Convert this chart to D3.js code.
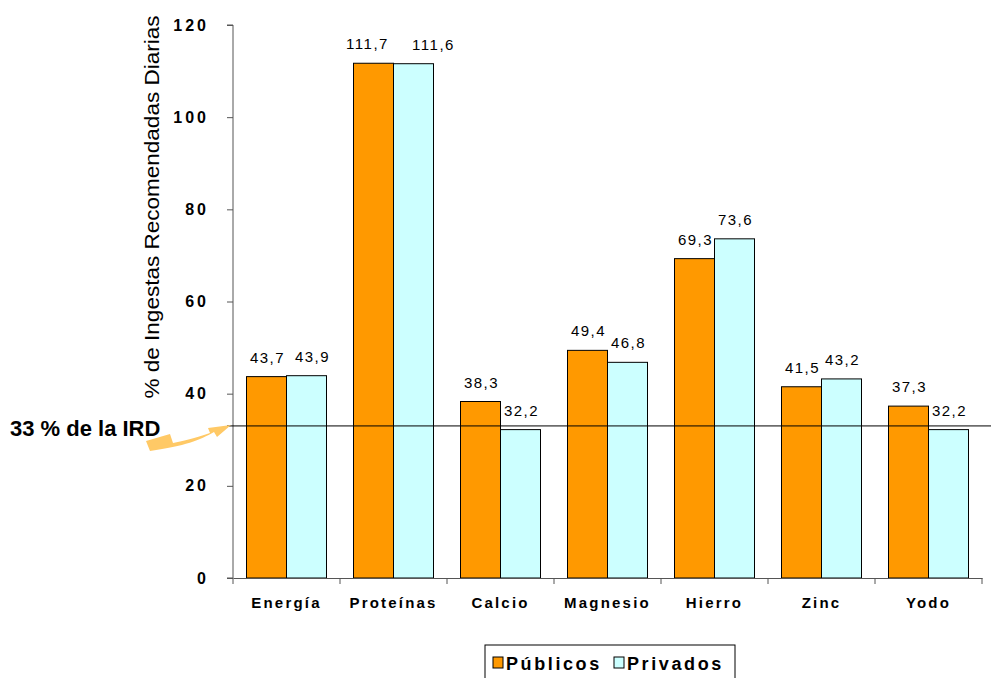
<!DOCTYPE html>
<html>
<head>
<meta charset="utf-8">
<script src="https://cdn.jsdelivr.net/npm/d3@7"></script>
<style>
  html, body { margin: 0; padding: 0; background: #fff; }
  svg { display: block; font-family: "Liberation Sans", Arial, sans-serif; }
</style>
</head>
<body>
<svg id="chart" width="991" height="678"></svg>
<script>
// Nutrient categories and % of recommended daily intake, per school type
const categories = ["Energía", "Proteínas", "Calcio", "Magnesio", "Hierro", "Zinc", "Yodo"];
const publicos = [43.7, 111.7, 38.3, 49.4, 69.3, 41.5, 37.3];
const privados = [43.9, 111.6, 32.2, 46.8, 73.6, 43.2, 32.2];
const seriesNames = ["Públicos", "Privados"];
const seriesColors = ["#FF9900", "#CCFFFF"];
const yTicks = [0, 20, 40, 60, 80, 100, 120];
const referenceLevel = 33;

// Hand-placed label nudges where neighbouring value labels would touch
const labelNudge = { "Energía": [0, 5], "Proteínas": [-7, 19] };

const svg = d3.select("#chart");
const W = 991;
const left = 233, plotW = 749;

const x = d3.scaleBand().domain(categories).range([left, left + plotW]).paddingInner(0).paddingOuter(0);
const xs = d3.scaleBand().domain(seriesNames).range([0, x.bandwidth()]).paddingInner(0).paddingOuter(0.3375);
const y = d3.scaleLinear().domain([0, 120]).range([578, 25]);

const rows = categories.map((c, i) => ({ cat: c, vals: [publicos[i], privados[i]] }));
const fmt = v => d3.format(".1f")(v).replace(".", ",");

// Bars with value labels
const g = svg.append("g");
rows.forEach(r => {
  r.vals.forEach((v, j) => {
    const bx = x(r.cat) + xs(seriesNames[j]);
    const nudge = labelNudge[r.cat] ? labelNudge[r.cat][j] : 0;
    g.append("rect")
      .attr("x", bx).attr("y", y(v))
      .attr("width", xs.bandwidth()).attr("height", y(0) - y(v))
      .attr("fill", seriesColors[j])
      .attr("stroke", "#000").attr("stroke-width", 1);
    g.append("text")
      .attr("x", bx + xs.bandwidth() / 2 + 1 + nudge)
      .attr("y", y(v) - 14)
      .attr("text-anchor", "middle")
      .attr("font-size", 15)
      .attr("letter-spacing", 1.5)
      .attr("fill", "#000")
      .text(fmt(v));
  });
});

// Y axis
const yAxis = d3.axisLeft(y).tickValues(yTicks).tickSize(6).tickPadding(18);
const ya = svg.append("g").attr("transform", `translate(${left},0)`).call(yAxis);
ya.select(".domain").attr("stroke", "#555").attr("d", `M-6,${y(120)}H0V${y(0)}H-6`);
ya.selectAll(".tick line").attr("stroke", "#555");
ya.selectAll(".tick text")
  .attr("font-family", "Liberation Sans, Arial, sans-serif")
  .attr("font-size", 16).attr("font-weight", "bold").attr("letter-spacing", 3)
  .attr("fill", "#000");

// X axis
const xAxis = d3.axisBottom(x).tickSize(0).tickPadding(19);
const xa = svg.append("g").attr("transform", `translate(0,${y(0)})`).call(xAxis);
xa.select(".domain").attr("stroke", "#555");
xa.selectAll(".tick text")
  .attr("font-family", "Liberation Sans, Arial, sans-serif")
  .attr("font-size", 15).attr("font-weight", "bold").attr("letter-spacing", 2.2)
  .attr("fill", "#000");
// category boundary ticks
xa.selectAll(".bound").data(d3.range(categories.length + 1)).enter().append("line")
  .attr("class", "bound")
  .attr("x1", i => left + i * x.bandwidth())
  .attr("x2", i => left + i * x.bandwidth())
  .attr("y1", 0).attr("y2", 6)
  .attr("stroke", "#555");

// Reference line at 33 %
svg.append("line")
  .attr("x1", left - 6).attr("x2", W)
  .attr("y1", y(referenceLevel)).attr("y2", y(referenceLevel))
  .attr("stroke", "#000").attr("stroke-width", 1);

// Y axis title
svg.append("text")
  .attr("transform", `translate(159,207) rotate(-90)`)
  .attr("text-anchor", "middle")
  .attr("font-size", 20)
  .attr("textLength", 383)
  .attr("lengthAdjust", "spacingAndGlyphs")
  .attr("fill", "#000")
  .text("% de  Ingestas Recomendadas Diarias");

// Reference annotation with curved arrow
svg.append("path")
  .attr("d", "M146,441 L170,434 L173,443 C190,440 200,436 210,433 L208,428 L231,425 L217,437 L214,432 C200,440 185,446 150,451 Z")
  .attr("fill", "#FFC966");
svg.append("text")
  .attr("x", 10).attr("y", 436)
  .attr("font-size", 22).attr("font-weight", "bold")
  .attr("fill", "#000")
  .text("33 % de la IRD");

// Legend
const lg = svg.append("g");
lg.append("rect").attr("x", 485).attr("y", 645).attr("width", 250).attr("height", 40)
  .attr("fill", "#fff").attr("stroke", "#000");
const items = [{ name: seriesNames[0], color: seriesColors[0], x: 493 }, { name: seriesNames[1], color: seriesColors[1], x: 614 }];
items.forEach(it => {
  lg.append("rect").attr("x", it.x).attr("y", 657).attr("width", 10).attr("height", 11)
    .attr("fill", it.color).attr("stroke", "#000");
  lg.append("text").attr("x", it.x + 13).attr("y", 670)
    .attr("font-size", 18).attr("font-weight", "bold").attr("letter-spacing", 2.6)
    .attr("fill", "#000").text(it.name);
});
</script>
</body>
</html>
